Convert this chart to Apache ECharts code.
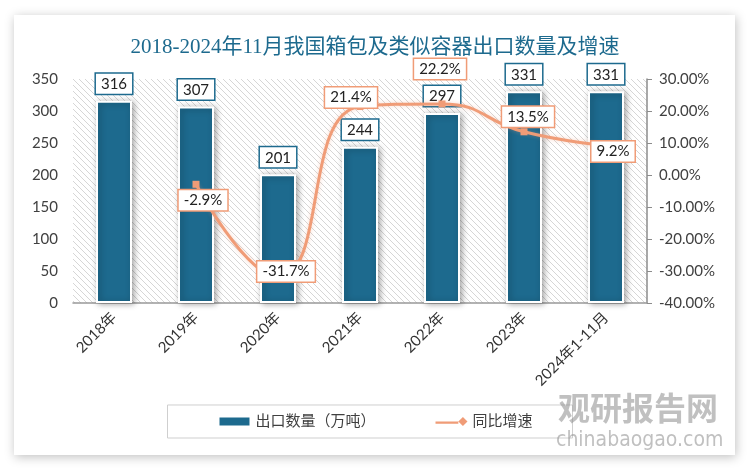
<!DOCTYPE html>
<html>
<head>
<meta charset="utf-8">
<script src="https://cdn.jsdelivr.net/npm/echarts@6/dist/echarts.min.js"></script>
<style>
html,body{margin:0;padding:0;background:#ffffff;}
#c{width:750px;height:471px;}
</style>
</head>
<body>
<div id="c"></div>
<script>
var categories = ['2018年','2019年','2020年','2021年','2022年','2023年','2024年1-11月'];
var exportQty = [316, 307, 201, 244, 297, 331, 331];
var growth = [null, -2.9, -31.7, 21.4, 22.2, 13.5, 9.2];
var growthLabelOffsets = [[0,0],[7,16],[8,-5],[-9,-9],[-2,-35],[4,-15],[7,6]];
var leftTicks = {min:0, max:350, interval:50};
var rightTicks = {min:-40, max:30, interval:10};

var pc = document.createElement('canvas');
pc.width = 6; pc.height = 6;
var px = pc.getContext('2d');
px.fillStyle = '#ffffff'; px.fillRect(0,0,6,6);
px.strokeStyle = '#d6d6d6'; px.lineWidth = 1;
px.beginPath();
px.moveTo(0,0); px.lineTo(6,6);
px.moveTo(-3,3); px.lineTo(3,9);
px.moveTo(3,-3); px.lineTo(9,3);
px.stroke();

var blue = '#1D6A8E';
var orange = '#F09C77';
var font = 'Lato, "Noto Sans CJK SC", sans-serif';

var chart = echarts.init(document.getElementById('c'), null, {renderer:'canvas'});
chart.setOption({
  animation: false,
  backgroundColor: '#ffffff',
  graphic: [
    {type:'rect', z:-100, shape:{x:14,y:15,width:721,height:440},
     style:{fill:'#ffffff', shadowBlur:10, shadowColor:'rgba(0,0,0,0.25)', shadowOffsetX:1, shadowOffsetY:2}},
    {type:'text', z:100, left:558, top:392,
     style:{text:'观研报告网', fill:'rgba(140,140,140,0.55)', font:'bold 32px "Noto Sans CJK SC"'}},
    {type:'text', z:100, left:556, top:430,
     style:{text:'chinabaogao.com', fill:'rgba(140,140,140,0.55)', font:'21px "DejaVu Sans Condensed", "DejaVu Sans"'}}
  ],
  title: {
    text: '2018-2024年11月我国箱包及类似容器出口数量及增速',
    left: 'center', top: 32,
    textStyle: {color: blue, fontSize: 21, fontWeight: 'normal', fontFamily: '"Liberation Serif", "Noto Sans CJK SC", serif'}
  },
  legend: {
    bottom: 33, left: 'center',
    itemGap: 60,
    itemWidth: 32, itemHeight: 10,
    padding: [9, 40, 9, 50],
    borderColor: '#cfcfcf', borderWidth: 1,
    textStyle: {fontSize: 15, color:'#404040', fontFamily: font},
    data: [
      {name:'出口数量（万吨）', icon:'rect'},
      {name:'同比增速', icon:'path://M0,4 L20,4 L24,0 L28,4 L24,8 L20,4 L20,6 L0,6 Z'}
    ]
  },
  grid: {
    left: 73, right: 103, top: 79, bottom: 168,
    show: true, borderWidth: 0,
    backgroundColor: {image: pc, repeat: 'repeat'}
  },
  xAxis: {
    type: 'category', data: categories,
    axisLine: {show:true, lineStyle:{color:'#999999', width:1.5}},
    axisTick: {show:false},
    axisLabel: {rotate:45, fontSize:15, color:'#333333', fontFamily: font, margin: 12}
  },
  yAxis: [
    {type:'value', min:leftTicks.min, max:leftTicks.max, interval:leftTicks.interval,
     axisLine:{show:false}, axisTick:{show:false}, splitLine:{show:false},
     axisLabel:{fontSize:15, color:'#404040', fontFamily: font, margin: 15}},
    {type:'value', min:rightTicks.min, max:rightTicks.max, interval:rightTicks.interval,
     position:'right',
     axisLine:{show:true, lineStyle:{color:'#8c8c8c', width:1.5}},
     axisTick:{show:true, length:5, lineStyle:{color:'#8c8c8c'}},
     splitLine:{show:false},
     axisLabel:{fontSize:15, color:'#404040', fontFamily: font, margin: 12,
       formatter: function(v){ return v.toFixed(2) + '%'; }}}
  ],
  series: [
    {
      name:'出口数量（万吨）', type:'bar', yAxisIndex:0,
      data: exportQty, barWidth: 36,
      itemStyle:{color: blue, borderColor:'#ffffff', borderWidth:2,
        shadowBlur:6, shadowColor:'rgba(0,0,0,0.35)', shadowOffsetX:2, shadowOffsetY:1},
      label:{show:true, position:'top', distance:7, fontSize:15, color:'#222', fontFamily: font,
        backgroundColor:'#ffffff', borderColor: blue, borderWidth:1.5, padding:[3,5,2,5]}
    },
    {
      name:'同比增速', type:'line', yAxisIndex:1, smooth: 0.5,
      data: growth.map(function(v,i){ return {value:v, label:{offset: growthLabelOffsets[i]}}; }),
      symbol:'rect', symbolSize:7, showSymbol:true,
      lineStyle:{color: orange, width:3, shadowBlur:4, shadowColor:'rgba(240,156,119,0.4)'},
      itemStyle:{color: orange},
      label:{show:true, position:'inside', fontSize:15, color:'#222', fontFamily: font,
        backgroundColor:'#ffffff', borderColor: orange, borderWidth:1.5, padding:[3,5,2,5],
        formatter: function(p){ return p.value == null ? '' : p.value.toFixed(1) + '%'; }}
    }
  ]
});
</script>
</body>
</html>
